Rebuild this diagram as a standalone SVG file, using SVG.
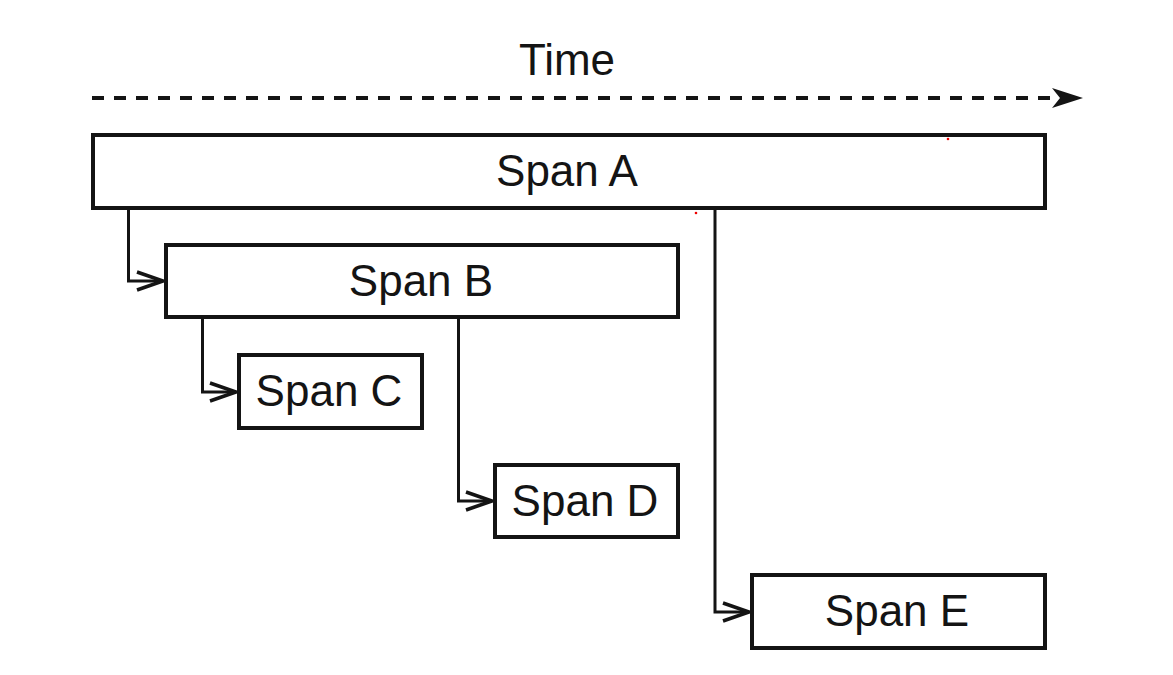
<svg xmlns="http://www.w3.org/2000/svg" width="1173" height="675" viewBox="0 0 1173 675">
<style>
.box{fill:#fff;stroke:#141414;stroke-width:4}
.lbl{font-family:"Liberation Sans",Arial,sans-serif;font-size:44px;fill:#141414;text-anchor:middle}
.conn{fill:none;stroke:#141414;stroke-width:3}
</style>
<defs>
<marker id="open" markerUnits="userSpaceOnUse" markerWidth="32" markerHeight="24" refX="28" refY="12" orient="auto">
<path d="M2,3 L28,12 L2,21" fill="none" stroke="#141414" stroke-width="3.6"/>
</marker>
</defs>
<rect width="1173" height="675" fill="#fff"/>
<g id="time-axis">
<text class="lbl" x="567" y="75">Time</text>
<line x1="92" y1="98" x2="1056" y2="98" stroke="#141414" stroke-width="4" stroke-dasharray="12 10"/>
<path d="M1052,88 L1083,98 L1052,108 L1060,98 Z" fill="#141414"/>
</g>
<g id="connectors">
<path class="conn" d="M128.5,210 V281 H163" marker-end="url(#open)"/>
<path class="conn" d="M202.5,319 V392 H236" marker-end="url(#open)"/>
<path class="conn" d="M458.5,319 V501 H492" marker-end="url(#open)"/>
<path class="conn" d="M715,210 V612 H749" marker-end="url(#open)"/>
</g>
<g id="spanA">
<rect class="box" x="93" y="135" width="952" height="73"/>
<text class="lbl" x="567" y="186">Span A</text>
</g>
<g id="spanB">
<rect class="box" x="166" y="245" width="512" height="72"/>
<text class="lbl" x="421" y="296">Span B</text>
</g>
<g id="spanC">
<rect class="box" x="239" y="355" width="183" height="73"/>
<text class="lbl" x="329" y="406">Span C</text>
</g>
<g id="spanD">
<rect class="box" x="495" y="465" width="183" height="72"/>
<text class="lbl" x="585" y="516">Span D</text>
</g>
<g id="spanE">
<rect class="box" x="752" y="575" width="293" height="73"/>
<text class="lbl" x="897" y="626">Span E</text>
</g>
<circle cx="948" cy="139" r="1.3" fill="#e00"/>
<circle cx="696" cy="213" r="1.3" fill="#e00"/>
</svg>
